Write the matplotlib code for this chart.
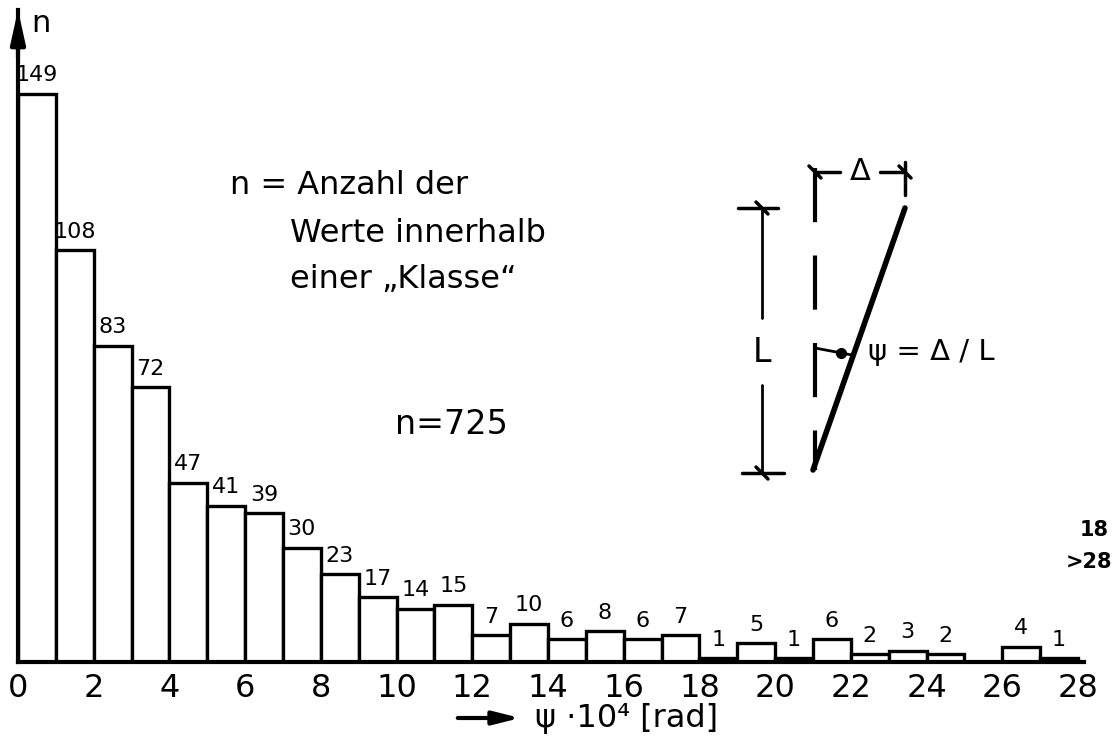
import matplotlib
matplotlib.use("Agg")
import matplotlib.pyplot as plt
from matplotlib.lines import Line2D
from matplotlib.patches import FancyArrowPatch

# ---- data ----
bin_left = list(range(28))
counts = [149, 108, 83, 72, 47, 41, 39, 30, 23, 17, 14, 15, 7, 10, 6, 8, 6, 7,
          1, 5, 1, 6, 2, 3, 2, 0, 4, 1]
xtick_values = list(range(0, 29, 2))
overflow_lines = ["18", ">28"]
total_label = "n=725"
legend_lines = ["n = Anzahl der", "Werte innerhalb", "einer \u201eKlasse\u201c"]

plt.rcParams["font.family"] = ["DejaVu Sans"]

W, H = 1112, 749
fig = plt.figure(figsize=(W / 100, H / 100), dpi=100)
fig.patch.set_facecolor("white")

x0px, x28px, y0px, ytop = 18, 1078, 662, 10
ax = fig.add_axes([x0px / W, (H - y0px) / H, (x28px - x0px) / W * 28.15 / 28,
                   (y0px - ytop) / H])
ax.bar(bin_left, counts, width=1, align="edge", facecolor="white",
       edgecolor="black", linewidth=2.4)
for x, c in zip(bin_left, counts):
    if c > 0:
        ax.text(x + 0.5, c + 2.2, str(c), ha="center", va="bottom",
                fontsize=16, color="black")

ax.set_xlim(0, 28.15)
ax.set_ylim(0, 171)
ax.set_xticks(xtick_values)
ax.set_xticklabels([str(v) for v in xtick_values], fontsize=23)
ax.tick_params(axis="x", length=0, pad=8)
ax.set_yticks([])
for s in ["top", "right"]:
    ax.spines[s].set_visible(False)
ax.spines["left"].set_linewidth(3)
ax.spines["bottom"].set_linewidth(3)


def P(x, y):
    return (x / W, 1 - y / H)


def fline(xs, ys, lw=2.0, ls="-", **kw):
    pts = [P(x, y) for x, y in zip(xs, ys)]
    fig.add_artist(Line2D([p[0] for p in pts], [p[1] for p in pts],
                          transform=fig.transFigure, color="black", lw=lw,
                          ls=ls, solid_capstyle="round", **kw))


def ftext(x, y, s, **kw):
    fig.text(x / W, 1 - y / H, s, **kw)


# y-axis arrow head
fig.add_artist(FancyArrowPatch(P(18, 60), P(18, 7), transform=fig.transFigure,
                               arrowstyle="-|>,head_length=1.0,head_width=0.22",
                               mutation_scale=20, lw=3, color="black"))
ftext(31, 24, "n", fontsize=22, va="center", ha="left")

# legend text
ftext(230, 186, legend_lines[0], fontsize=23, va="center", ha="left")
ftext(290, 234, legend_lines[1], fontsize=23, va="center", ha="left")
ftext(290, 279, legend_lines[2], fontsize=23, va="center", ha="left")
ftext(395, 425, total_label, fontsize=24, va="center", ha="left")

# overflow note
ftext(1094, 530, overflow_lines[0], fontsize=15, va="center", ha="center",
      fontweight="bold")
ftext(1112, 562, overflow_lines[1], fontsize=15, va="center", ha="right",
      fontweight="bold")

# x label with arrow
fig.add_artist(FancyArrowPatch(P(455, 718), P(523, 718),
                               transform=fig.transFigure,
                               arrowstyle="-|>,head_length=0.8,head_width=0.2",
                               mutation_scale=20, lw=3, color="black"))
ftext(535, 718, "\u03c8 \u00b710\u2074 [rad]", fontsize=23, va="center",
      ha="left")

# sketch: dashed reference line
fline([815, 815], [168, 470], lw=3, ls=(0, (13, 8)))
# slanted line
fline([813, 905], [470, 208], lw=4)
# L dimension line
fline([762, 762], [208, 318], lw=2)
fline([762, 762], [385, 473], lw=2)
fline([738, 778], [208, 208], lw=2.5)
fline([742, 784], [473, 473], lw=2.5)
fline([756, 768], [202, 214], lw=2.5)
fline([756, 768], [467, 479], lw=2.5)
ftext(762, 352, "L", fontsize=24, va="center", ha="center")
# Delta dimension
fline([815, 840], [172, 172], lw=2.5)
fline([880, 905], [172, 172], lw=2.5)
fline([905, 905], [162, 195], lw=2.5)
fline([809, 821], [166, 178], lw=2.5)
fline([899, 911], [166, 178], lw=2.5)
ftext(860, 172, "\u0394", fontsize=22, va="center", ha="center")
# angle mark
fline([815, 852], [348, 355], lw=2)
fig.add_artist(Line2D([P(841, 353)[0]], [P(841, 353)[1]],
                      transform=fig.transFigure, marker="o", ms=7,
                      color="black"))
ftext(868, 352, "\u03c8 = \u0394 / L", fontsize=21, va="center", ha="left")

fig.savefig("out.png", dpi=100, facecolor="white")
